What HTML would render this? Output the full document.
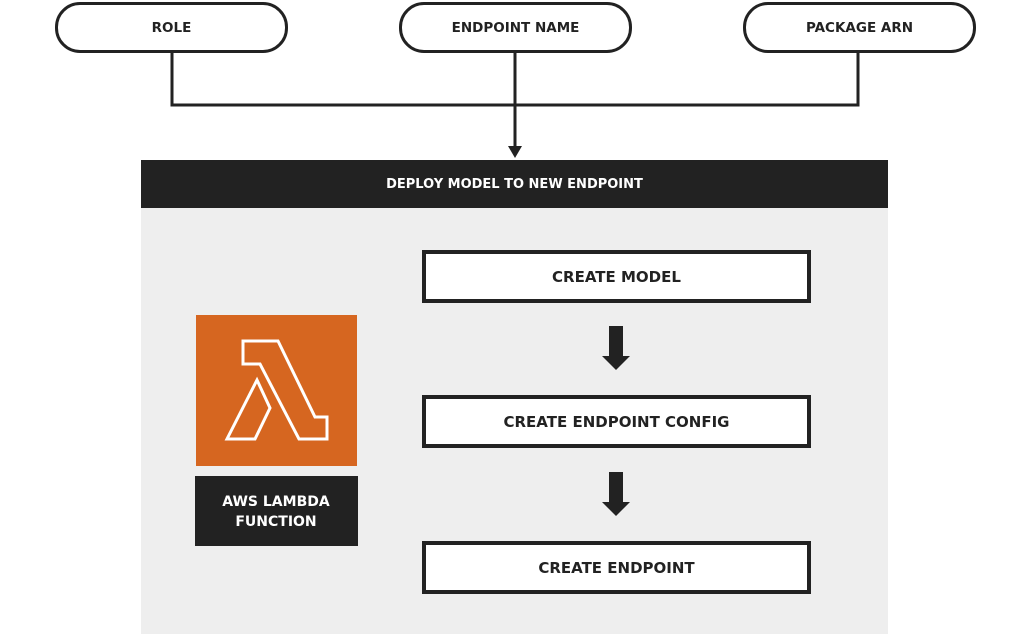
<!DOCTYPE html>
<html><head><style>
body{margin:0;width:1031px;height:634px;background:#fff;position:relative;overflow:hidden;font-family:"DejaVu Sans","Liberation Sans",sans-serif;font-weight:bold;color:#222}
.pill{position:absolute;top:2px;height:45px;border:3px solid #222;border-radius:25px;background:#fff;display:flex;align-items:center;justify-content:center;font-size:13.5px}
.box{position:absolute;left:422px;width:381px;height:45px;border:4px solid #222;background:#fff;display:flex;align-items:center;justify-content:center;font-size:15px}
</style></head><body>
<div class="pill" style="left:55px;width:227px">ROLE</div>
<div class="pill" style="left:399px;width:227px">ENDPOINT NAME</div>
<div class="pill" style="left:743px;width:227px">PACKAGE ARN</div>
<svg style="position:absolute;left:0;top:0" width="1031" height="634">
<polyline points="172,52 172,105 858,105 858,52" fill="none" stroke="#222" stroke-width="3"/>
<line x1="515" y1="52" x2="515" y2="148" stroke="#222" stroke-width="3"/>
<polygon points="508,146 522,146 515,158" fill="#222"/>
</svg>
<div style="position:absolute;left:141px;top:160px;width:747px;height:474px;background:#eee"></div>
<div style="position:absolute;left:141px;top:160px;width:747px;height:48px;background:#222;color:#fff;display:flex;align-items:center;justify-content:center;font-size:13px">DEPLOY MODEL TO NEW ENDPOINT</div>
<div class="box" style="top:250px">CREATE MODEL</div>
<div class="box" style="top:395px">CREATE ENDPOINT CONFIG</div>
<div class="box" style="top:541px">CREATE ENDPOINT</div>
<svg style="position:absolute;left:0;top:0" width="1031" height="634">
<polygon points="609,326 623,326 623,356 630,356 616,370 602,356 609,356" fill="#222"/>
<polygon points="609,472 623,472 623,502 630,502 616,516 602,502 609,502" fill="#222"/>
<rect x="196" y="315" width="161" height="151" fill="#d66620"/>
<polygon points="243,341 278,341 315,417 327,417 327,439 299,439 260,364 243,364" fill="none" stroke="#fff" stroke-width="3" stroke-linejoin="miter"/>
<polygon points="257,380 270,408 255,439 227,439" fill="none" stroke="#fff" stroke-width="3"/>
<rect x="195" y="476" width="163" height="70" fill="#222"/>
<text x="276" y="506" fill="#fff" font-size="14" text-anchor="middle" font-family="DejaVu Sans" font-weight="bold">AWS LAMBDA</text>
<text x="276" y="526" fill="#fff" font-size="14" text-anchor="middle" font-family="DejaVu Sans" font-weight="bold">FUNCTION</text>
</svg>
</body></html>
